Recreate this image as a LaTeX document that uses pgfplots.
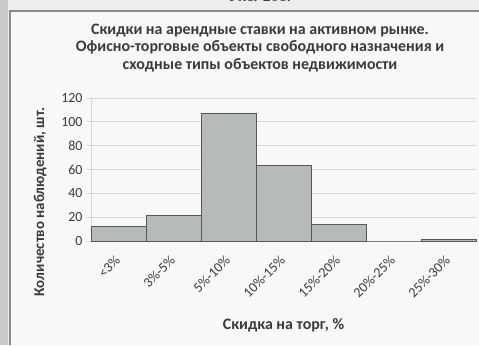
\documentclass[border=0pt]{standalone}
\usepackage{pgfplots}
\pgfplotsset{compat=1.18}
\usepackage{fontspec}
\setmainfont{Carlito}
\newfontfamily\serifcap{Liberation Serif}

\definecolor{pagegray}{HTML}{EDEDED}
\definecolor{stripgray}{HTML}{C9C9C9}
\definecolor{sheet}{HTML}{F8F8F8}
\definecolor{framegray}{HTML}{8A8A8A}
\definecolor{gridgray}{HTML}{D6D6D6}
\definecolor{barfill}{HTML}{B6BBBA}
\definecolor{barline}{HTML}{555858}
\definecolor{txt}{HTML}{3A3A3A}

% discount histogram: category index, number of observations
\pgfplotstableread{
idx count
0 12
1 21
2 107
3 63
4 14
5 0
6 1
}\discounts

\begin{document}
\begin{tikzpicture}[x=1bp,y=1bp]
  % page and chart frame
  \clip (0,0) rectangle (479,345);
  \fill[pagegray] (0,0) rectangle (479,345);
  \fill[stripgray] (0,0) rectangle (8,345);
  \fill[sheet] (10,0) rectangle (479,334);
  \draw[framegray, line width=1.2bp] (10,0) -- (10,334) -- (479,334);
  \node[font=\serifcap\fontsize{16}{16}\selectfont, text=txt] at (260,349) {Рис. 201.};

  % chart title
  \node[font=\bfseries\fontsize{16}{17.5}\selectfont, text=txt, align=center]
    at (260,297) {Скидки на арендные ставки на активном рынке.\\
    Офисно-торговые объекты свободного назначения и\\
    сходные типы объектов недвижимости};

  \begin{axis}[
    at={(91bp,104bp)}, anchor=south west,
    scale only axis,
    width=385bp, height=143bp,
    xmin=-0.5, xmax=6.5,
    ymin=0, ymax=120,
    ytick={0,20,...,120},
    xtick={0,...,6},
    xticklabels={<3\%,3\%-5\%,5\%-10\%,10\%-15\%,15\%-20\%,20\%-25\%,25\%-30\%},
    /pgf/number format/assume math mode=true,
    ymajorgrids,
    grid style={gridgray, line width=0.8bp},
    axis x line*=bottom,
    axis y line*=left,
    axis line style={gridgray, line width=0.8bp},
    x axis line style={-},
    y axis line style={-},
    major tick length=4bp,
    ytick style={gridgray, line width=0.8bp},
    xtick style={draw=none},
    tick align=outside,
    ticklabel style={font=\fontsize{14}{14}\selectfont, text=txt},
    xticklabel style={yshift=-12bp, rotate=45, anchor=east, inner sep=1bp},
    yticklabel style={xshift=-1bp},
    xlabel={Скидка на торг, \%},
    xlabel style={font=\bfseries\fontsize{16}{16}\selectfont, text=txt,
      at={(axis description cs:0.5,-0.587)}, anchor=center},
    ylabel={Количество наблюдений, шт.},
    ylabel style={font=\bfseries\fontsize{15}{15}\selectfont, text=txt,
      at={(axis description cs:-0.132,0.273)}, anchor=center, rotate=0},
    clip=false,
  ]
    \addplot[ybar, bar width=1, fill=barfill, draw=barline, line width=1bp]
      table[x=idx, y=count] {\discounts};
  \end{axis}
\end{tikzpicture}
\end{document}
